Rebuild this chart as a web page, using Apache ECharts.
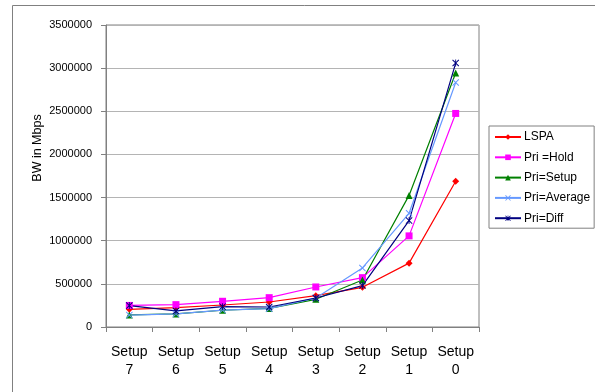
<!DOCTYPE html>
<html><head><meta charset="utf-8">
<script src="https://cdn.jsdelivr.net/npm/echarts@6/dist/echarts.min.js"></script>
<style>html,body{margin:0;padding:0;background:#fff}#c{width:595px;height:392px}</style>
</head><body><div id="c"></div>
<script>
const categories = ['Setup\n7','Setup\n6','Setup\n5','Setup\n4','Setup\n3','Setup\n2','Setup\n1','Setup\n0'];
const lspa      = [205000, 224000, 255000, 290000, 363000, 460000, 740000, 1690000];
const priHold   = [250000, 259000, 298000, 340000, 464000, 572000, 1056000, 2475000];
const priSetup  = [140000, 151000, 194000, 215000, 321000, 545000, 1525000, 2943000];
const priAvg    = [138000, 152000, 196000, 212000, 336000, 684000, 1318000, 2834000];
const priDiff   = [248000, 186000, 236000, 232000, 336000, 480000, 1233000, 3059000];
const yTicks = {min: 0, max: 3500000, interval: 500000};
const yTitle = 'BW in Mbps';

const xPath = 'path://M0,1 L1,0 L5,4 L9,0 L10,1 L6,5 L10,9 L9,10 L5,6 L1,10 L0,9 L4,5 Z';
const starPath = 'path://M0,1 L1,0 L5,4 L9,0 L10,1 L6,5 L10,9 L9,10 L5,6 L1,10 L0,9 L4,5 Z M4.4,0 L5.6,0 L5.6,10 L4.4,10 Z';

function mk(name, data, color, symbol, size) {
  return {name, type: 'line', data, symbol, symbolSize: size, showSymbol: true,
    lineStyle: {color, width: 1.2}, itemStyle: {color}, animation: false};
}
const chart = echarts.init(document.getElementById('c'));
chart.setOption({
  animation: false,
  textStyle: {fontFamily: 'Liberation Sans, Arial, sans-serif'},
  graphic: [
    {type: 'rect', left: 10, top: 3, shape: {width: 600, height: 387},
     style: {fill: 'none', stroke: '#808080', lineWidth: 1}, silent: true, z: -1},
    {type: 'text', x: 38, y: 148, rotation: Math.PI / 2,
     style: {text: yTitle, fontSize: 12.5, fill: '#000', align: 'center', verticalAlign: 'middle',
       fontFamily: 'Liberation Sans, Arial, sans-serif'}, silent: true}
  ],
  grid: {left: 106, right: 116, top: 25, bottom: 65, show: true, borderColor: '#808080', borderWidth: 1},
  legend: {
    orient: 'vertical', left: 489, top: 126, itemWidth: 26, itemHeight: 7, itemGap: 8.3,
    padding: [5, 4, 4, 5], borderColor: '#808080', borderWidth: 1, backgroundColor: '#fff',
    textStyle: {fontSize: 12, color: '#000', padding: [0,0,0,-2]},
    data: ['LSPA', 'Pri =Hold', 'Pri=Setup', 'Pri=Average', 'Pri=Diff']
  },
  xAxis: {
    type: 'category', data: categories, boundaryGap: true,
    axisLine: {lineStyle: {color: '#808080'}},
    axisTick: {show: true, length: 5, lineStyle: {color: '#808080'}},
    axisLabel: {color: '#000', fontSize: 14, lineHeight: 18, margin: 16, interval: 0}
  },
  yAxis: {
    type: 'value', min: yTicks.min, max: yTicks.max, interval: yTicks.interval,
    axisLine: {show: true, lineStyle: {color: '#808080'}},
    axisTick: {show: true, length: 5, lineStyle: {color: '#808080'}},
    axisLabel: {color: '#000', fontSize: 11, margin: 14, formatter: v => String(v)},
    splitLine: {lineStyle: {color: '#b4b4b4'}}
  },
  series: [
    mk('LSPA', lspa, '#ff0000', 'diamond', 7),
    mk('Pri =Hold', priHold, '#ff00ff', 'rect', 7),
    mk('Pri=Setup', priSetup, '#008000', 'triangle', 7),
    mk('Pri=Average', priAvg, '#6699ff', xPath, 7),
    mk('Pri=Diff', priDiff, '#000080', starPath, 7)
  ]
});
</script></body></html>
